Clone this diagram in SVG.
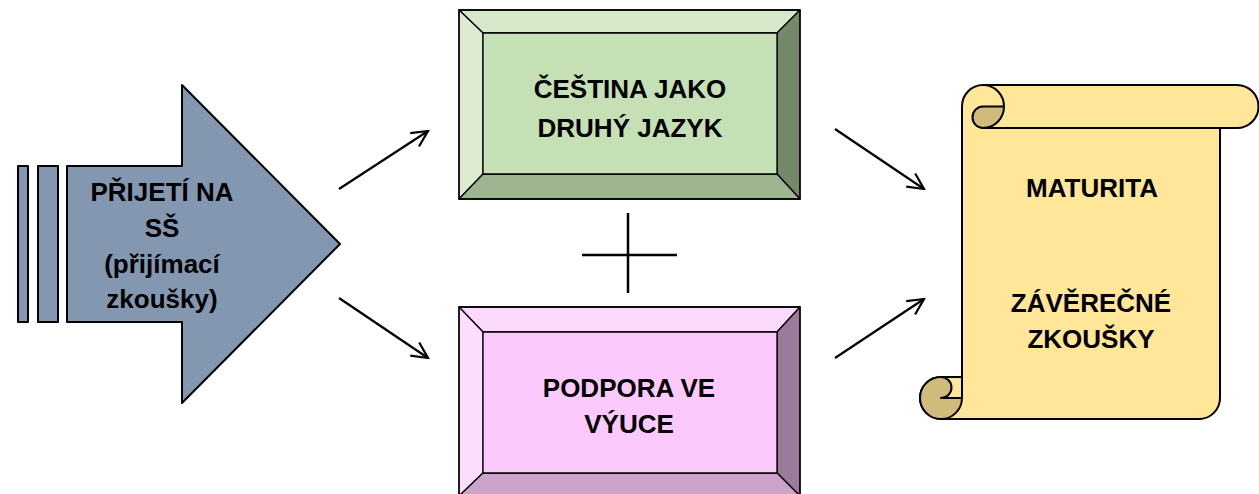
<svg xmlns="http://www.w3.org/2000/svg" width="1259" height="494" viewBox="0 0 1259 494">
<defs>
<style>
.t{font-family:"Liberation Sans",Arial,sans-serif;font-weight:bold;font-size:26px;fill:#000;text-anchor:middle}
.ol{stroke:#000;stroke-width:2;stroke-linejoin:round}
.bev{stroke:#000;stroke-width:1.3;stroke-linejoin:round}
.con{stroke:#000;stroke-width:2.2;fill:none}
</style>
<marker id="ah" viewBox="0 0 20 20" refX="18" refY="10" markerWidth="20" markerHeight="20" markerUnits="userSpaceOnUse" orient="auto">
<polyline points="2,2 18,10 2,18" fill="none" stroke="#000" stroke-width="2.2" stroke-linejoin="miter"/>
</marker>
</defs>
<rect width="1259" height="494" fill="#fff"/>

<g id="prijeti">
<rect x="18" y="166" width="10" height="156" fill="#8497B0" class="ol"/>
<rect x="38" y="166" width="20" height="156" fill="#8497B0" class="ol"/>
<path d="M67,166 L182,166 L182,85 L340,244 L182,403 L182,322 L67,322 Z" fill="#8497B0" class="ol"/>
<text class="t" x="162" y="201">PŘIJETÍ NA</text>
<text class="t" x="162" y="237">SŠ</text>
<text class="t" x="162" y="273">(přijímací</text>
<text class="t" x="162" y="308">zkoušky)</text>
</g>

<g id="cestina">
<rect x="459" y="10" width="341" height="189" fill="#C5E0B4"/>
<polygon points="459,10 800,10 777,33 483,33" fill="#D5E8C9" class="bev"/>
<polygon points="459,10 483,33 483,174 459,199" fill="#DCEBD1" class="bev"/>
<polygon points="800,10 800,199 777,174 777,33" fill="#76886A" class="bev"/>
<polygon points="459,199 483,174 777,174 800,199" fill="#9DB490" class="bev"/>
<rect x="483" y="33" width="294" height="141" fill="#C5E0B4" class="bev"/>
<rect x="459" y="10" width="341" height="189" fill="none" class="bev"/>
<text class="t" x="630" y="98">ČEŠTINA JAKO</text>
<text class="t" x="630" y="137">DRUHÝ JAZYK</text>
</g>

<g id="podpora">
<rect x="459" y="307" width="341" height="189" fill="#FCC9FC"/>
<polygon points="459,307 800,307 777,332 483,332" fill="#FDD9FD" class="bev"/>
<polygon points="459,307 483,332 483,473 459,496" fill="#FDDDFD" class="bev"/>
<polygon points="800,307 800,496 777,473 777,332" fill="#9B7A9B" class="bev"/>
<polygon points="459,496 483,473 777,473 800,496" fill="#CCA3CC" class="bev"/>
<rect x="483" y="332" width="294" height="141" fill="#FCC9FC" class="bev"/>
<rect x="459" y="307" width="341" height="189" fill="none" class="bev"/>
<text class="t" x="629" y="397">PODPORA VE</text>
<text class="t" x="629" y="433">VÝUCE</text>
</g>

<g id="plus">
<line x1="628" y1="213" x2="628" y2="293" stroke="#000" stroke-width="2.5"/>
<line x1="582" y1="255" x2="677" y2="255" stroke="#000" stroke-width="2.5"/>
</g>

<g id="maturita">
<path d="M983,85 L1237,85 A21.5,21.5 0 0 1 1237,128 L1220,128 L1220,398 A21,21 0 0 1 1199,419 L941,419 A21,21 0 0 1 941,377 L962,377 L962,106.5 A21,21.5 0 0 1 983,85 Z" fill="#FFE699" class="ol"/>
<line x1="983" y1="128" x2="1220" y2="128" class="ol"/>
<path d="M983,85 A21,21.5 0 0 1 1004,106.5" fill="none" class="ol"/>
<path d="M983,106.5 L1004,106.5 A21,21.5 0 0 1 983,128 A10.5,10.75 0 0 1 983,106.5 Z" fill="#CFBB7C" class="ol"/>
<line x1="962" y1="377" x2="962" y2="398" class="ol"/>
<path d="M941,377 A10.5,10.5 0 0 1 941,398 L962,398 A21,21 0 0 1 941,419 A21,21 0 0 1 941,377 Z" fill="#CFBB7C" class="ol"/>
<text class="t" x="1092" y="197">MATURITA</text>
<text class="t" x="1091" y="312">ZÁVĚREČNÉ</text>
<text class="t" x="1091" y="348">ZKOUŠKY</text>
</g>

<g id="connectors">
<line x1="339" y1="189" x2="428" y2="131" class="con" marker-end="url(#ah)"/>
<line x1="339" y1="298" x2="428" y2="358" class="con" marker-end="url(#ah)"/>
<line x1="835" y1="129" x2="924" y2="189" class="con" marker-end="url(#ah)"/>
<line x1="835" y1="358" x2="924" y2="299" class="con" marker-end="url(#ah)"/>
</g>
</svg>
